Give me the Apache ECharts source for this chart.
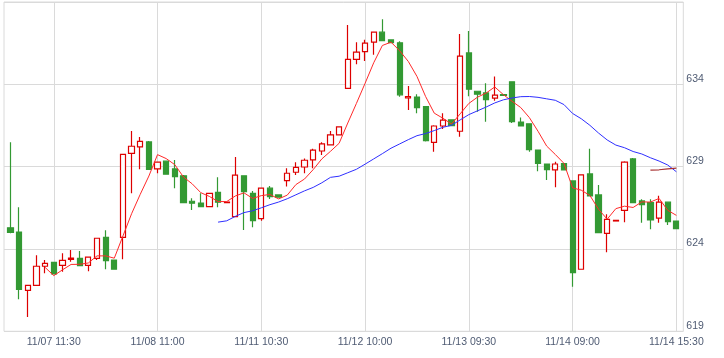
<!DOCTYPE html>
<html>
<head>
<meta charset="utf-8">
<script src="https://cdn.jsdelivr.net/npm/echarts@6/dist/echarts.min.js"></script>
<style>html,body{margin:0;padding:0;background:#fff;}#c{width:724px;height:358px;}</style>
</head>
<body>
<div id="c"></div>
<script>
const days = ['11/07','11/08','11/11','11/12','11/13','11/14'];
const times = ['09:00','09:30','10:00','10:30','11:00','11:30','12:30','13:00','13:30','14:00','14:30','15:00','15:30'];
const categories = [];
days.forEach(d => times.forEach(t => categories.push(d + ' ' + t)));

const openP = [
625.29,625.03,621.49,621.79,622.95,623.19,623.01,623.37,623.43,623.01,623.43,624.71,623.33,
624.71,629.81,630.20,630.50,628.86,629.33,628.86,628.44,626.90,626.79,626.57,627.44,626.81,
625.96,628.44,627.38,625.84,627.69,627.28,628.15,628.66,628.98,629.41,629.95,630.32,630.93,
633.76,635.52,635.99,636.56,637.17,636.70,636.52,633.17,633.23,632.65,630.48,631.47,631.84,
631.15,635.91,633.58,633.48,633.16,633.38,634.15,631.71,631.60,630.01,629.16,628.80,629.18,
628.13,622.77,628.56,627.28,624.95,625.70,626.35,629.47,626.92,626.81,625.87,626.84,625.70];
const closeP = [
625.00,621.55,621.79,622.95,623.13,622.48,623.31,623.45,622.99,623.50,624.65,623.29,622.77,
629.75,630.24,630.54,628.84,629.27,628.54,628.39,626.81,626.78,626.57,627.38,626.84,626.85,
628.48,627.48,625.72,627.69,627.18,627.14,628.60,628.96,629.39,630.00,630.38,630.93,631.41,
635.52,635.95,636.50,637.17,636.66,636.53,633.36,633.25,632.58,630.58,631.47,631.82,631.49,
635.71,633.70,633.40,633.07,633.34,633.33,631.73,631.47,630.03,629.20,628.82,629.16,628.80,
622.56,628.50,627.22,624.99,625.80,625.74,629.27,626.81,626.69,625.76,626.84,625.66,625.23];
const lowP = [
624.96,620.94,619.87,621.79,622.52,622.48,622.62,623.23,622.99,622.65,623.33,622.77,622.77,
623.37,627.38,628.84,628.84,628.60,628.54,627.69,626.81,626.37,626.57,626.57,626.53,626.81,
625.96,625.15,625.32,625.72,627.04,627.14,627.79,628.50,628.60,628.90,629.71,630.32,630.93,
633.76,635.22,635.42,635.79,636.66,636.53,633.25,632.44,632.24,630.52,629.91,631.29,631.49,
630.82,633.28,632.34,631.73,633.01,633.30,631.65,631.47,629.91,628.72,628.19,627.75,628.80,
621.71,622.77,627.22,624.95,623.80,625.70,625.62,626.81,625.60,625.20,625.60,625.46,625.23];
const highP = [
630.48,626.53,621.79,623.62,623.33,623.19,623.74,623.94,623.88,623.50,624.65,625.14,623.33,
629.75,631.17,630.80,630.56,629.27,629.33,629.41,628.50,627.08,627.38,627.38,628.36,626.88,
629.59,628.44,627.52,627.69,627.83,627.28,628.90,629.27,629.49,630.08,630.48,631.17,631.41,
637.61,636.56,636.70,637.17,637.95,636.70,636.62,633.90,633.40,632.65,631.52,632.24,631.84,
637.06,637.24,633.58,634.07,634.47,633.40,634.15,631.98,631.60,630.01,629.16,629.30,629.18,
628.13,628.50,630.08,627.89,626.11,625.74,629.33,629.53,627.02,627.02,627.24,626.84,625.70];

const ma5 = [null,null,null,null,
622.88,622.38,622.73,623.06,623.07,623.15,623.58,623.58,623.44,
624.79,626.14,627.32,628.43,629.73,629.49,629.12,628.37,627.96,627.42,627.19,626.88,626.88,
627.22,627.41,627.07,627.24,627.31,627.04,627.27,627.91,628.25,628.82,629.47,629.93,630.42,
631.65,632.84,634.06,635.31,636.36,636.56,636.04,635.39,634.48,633.26,632.25,631.94,631.59,
632.21,632.84,633.22,633.47,633.84,633.37,632.97,632.59,631.98,631.15,630.25,629.74,629.20,
627.71,627.57,627.25,626.41,625.81,626.45,626.60,626.52,626.86,626.85,627.07,626.35,626.04];
const ma25 = new Array(24).fill(null).concat([
625.63,625.71,
625.98,626.21,626.32,626.50,626.69,626.85,627.05,627.29,627.53,627.74,628.02,628.35,628.42,
628.63,628.84,629.15,629.47,629.79,630.12,630.38,630.64,630.88,631.01,631.19,631.39,631.51,
631.84,632.16,632.39,632.62,632.87,633.06,633.17,633.25,633.26,633.21,633.12,633.03,632.77,
632.23,631.91,631.51,631.04,630.62,630.31,630.15,629.92,629.77,629.54,629.34,629.10,628.69]);
const ma75 = new Array(74).fill(null).concat([628.79,628.81,628.87,628.91]);

const candles = openP.map((o, i) => [o, closeP[i], lowP[i], highP[i]]);
const labelIdx = (i) => (i - 5) % 12 === 0;

const gridColor = '#dadada';
const textColor = '#4f5b73';
const font = 'Liberation Sans, Arial, sans-serif';

const chart = echarts.init(document.getElementById('c'), null, {renderer: 'canvas'});
chart.setOption({
  animation: false,
  backgroundColor: '#fff',
  grid: [
    {left: 4, right: 40.7, top: 2, bottom: 26.7, show: true, borderColor: gridColor, borderWidth: 1, backgroundColor: 'transparent'},
    {left: 6.2, right: 43.3, top: 2, bottom: 26.7}
  ],
  xAxis: [
    {gridIndex: 0, type: 'value', min: 0, max: 1, show: false},
    {gridIndex: 1, type: 'category', data: categories, boundaryGap: true,
      axisLine: {show: false}, axisTick: {show: false},
      axisLabel: {interval: labelIdx, color: textColor, fontFamily: font, fontSize: 10.5, margin: 5, hideOverlap: false},
      splitLine: {show: true, interval: labelIdx, alignWithLabel: true, lineStyle: {color: gridColor, width: 1}}
    }
  ],
  yAxis: [
    {gridIndex: 0, type: 'value', min: 619, max: 639, interval: 5, position: 'right',
      axisLine: {show: false}, axisTick: {show: false},
      axisLabel: {color: textColor, fontFamily: font, fontSize: 10.5, margin: 3, verticalAlign: 'bottom', showMaxLabel: false, showMinLabel: true},
      splitLine: {show: true, lineStyle: {color: gridColor, width: 1}}
    },
    {gridIndex: 1, type: 'value', min: 619, max: 639, show: false, splitLine: {show: false}}
  ],
  series: [
    {type: 'candlestick', xAxisIndex: 1, yAxisIndex: 1, data: candles, barWidth: 5.7,
      itemStyle: {color: '#ffffff', borderColor: '#dd0000', color0: '#339933', borderColor0: '#339933', borderWidth: 1.2}},
    {type: 'line', name: 'MA5', xAxisIndex: 1, yAxisIndex: 1, data: ma5, symbol: 'none', smooth: false,
      lineStyle: {color: '#ff2a2a', width: 1}},
    {type: 'line', name: 'MA25', xAxisIndex: 1, yAxisIndex: 1, data: ma25, symbol: 'none', smooth: false,
      lineStyle: {color: '#2f2fff', width: 1}},
    {type: 'line', name: 'MA75', xAxisIndex: 1, yAxisIndex: 1, data: ma75, symbol: 'none', smooth: false,
      lineStyle: {color: '#a83232', width: 1.2}}
  ]
});
</script>
</body>
</html>
